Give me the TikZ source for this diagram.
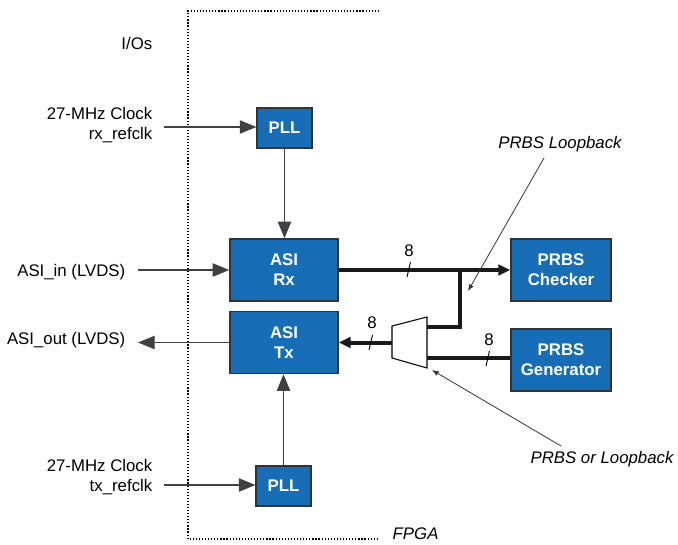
\documentclass[tikz,border=0pt]{standalone}
\usepackage{fontspec}
\setmainfont{Liberation Sans}
\usetikzlibrary{arrows.meta}
\definecolor{blockblue}{RGB}{23,110,182}
\newcommand{\labelsize}{\fontsize{12.6}{15}\selectfont}
\tikzset{
    block/.style={draw=black!80,line width=1.1pt,fill=blockblue,text=white,font=\labelsize\bfseries,align=center,inner sep=0pt},
    pllbox/.style={block,minimum width=41pt,minimum height=30pt},
    asibox/.style={block,minimum width=81pt,minimum height=46.5pt},
    prbsbox/.style={block,minimum width=75pt,minimum height=46.5pt},
    sig/.style={line width=1pt,draw=black!75,-{Triangle[length=12.5pt,width=10pt]}},
    bus/.style={line width=3pt,draw=black!90},
    busarrow/.style={bus,-{Triangle[length=9pt,width=8pt]}},
    note/.style={line width=0.6pt,draw=black!80,-{Latex[length=5pt,width=4pt]}},
    slash/.style={line width=0.7pt},
    remark/.style={font=\labelsize\itshape},
}
\begin{document}
\begin{tikzpicture}[x=0.75pt,y=-0.75pt,font=\labelsize]
        \useasboundingbox (0,0) rectangle (678,544);
        %% FPGA boundary
        \draw[line width=0.9pt,dash pattern=on 0.9pt off 1.4pt] (379,11) -- (188,11) -- (188,539) -- (377,539);
        \node[anchor=west,remark] (fpga) at (388,534) {FPGA};
        \node[anchor=east] (ios) at (157,43) {I/Os};
        %% blocks
        \node[pllbox] (pllrx) at (284.5,128) {PLL};
        \node[pllbox] (plltx) at (283.5,486) {PLL};
        \node[asibox] (asirx) at (284,270) {ASI\\Rx};
        \node[asibox] (asitx) at (284,342.5) {ASI\\Tx};
        \node[prbsbox] (chk) at (561,270) {PRBS\\Checker};
        \node[prbsbox] (gen) at (561,360) {PRBS\\Generator};
        %% multiplexer
        \coordinate (muxa) at (392,326);
        \coordinate (muxb) at (427,317);
        \coordinate (muxc) at (427,368);
        \coordinate (muxd) at (392,358);
        \draw[line width=0.8pt,fill=white] (muxa) -- (muxb) -- (muxc) -- (muxd) -- cycle;
        \coordinate (muxin1) at (427,327);
        \coordinate (muxin2) at (427,358);
        \coordinate (muxout) at (392,342.5);
        \coordinate (branch) at (460,270);
        %% pins
        \node[anchor=east,align=right] (clkrx) at (157,125) {27-MHz Clock\\rx\_refclk};
        \node[anchor=east,align=right] (clktx) at (157,477) {27-MHz Clock\\tx\_refclk};
        \node[anchor=east] (asiin) at (130,272) {ASI\_in (LVDS)};
        \node[anchor=east] (asiout) at (130,340) {ASI\_out (LVDS)};
        \draw[sig] (164,127) -- (pllrx.west |- 0,127);
        \draw[sig] (164,485) -- (plltx.west |- 0,485);
        \draw[sig] (138,270) -- (asirx.west);
        \draw[sig] (asitx.west) -- (138,342.5);
        \draw[sig] (pllrx.south) -- (asirx.north -| pllrx.south);
        \draw[sig] (plltx.north) -- (asitx.south -| plltx.north);
        %% data paths
        \draw[busarrow] (asirx.east) -- (chk.west);
        \draw[bus,line join=miter] (branch) -- (460,327) -- (muxin1);
        \draw[bus] (gen.west |- muxin2) -- (muxin2);
        \draw[busarrow] (muxout) -- (asitx.east |- muxout);
        %% bus widths
        \draw[slash] (407,277) -- (410.5,262);
        \draw[slash] (369,350) -- (372.5,335);
        \draw[slash] (486,366) -- (489.5,351);
        \node (w1) at (409,251) {8};
        \node (w2) at (372,323) {8};
        \node (w3) at (489,340) {8};
        %% annotations
        \node[remark] (lbl1) at (560,144) {PRBS Loopback};
        \node[remark] (lbl2) at (602,459) {PRBS or Loopback};
        \draw[note] (544,158) -- (468,291);
        \draw[note] (561,446) -- (432,370);
    \end{tikzpicture}
\end{document}
